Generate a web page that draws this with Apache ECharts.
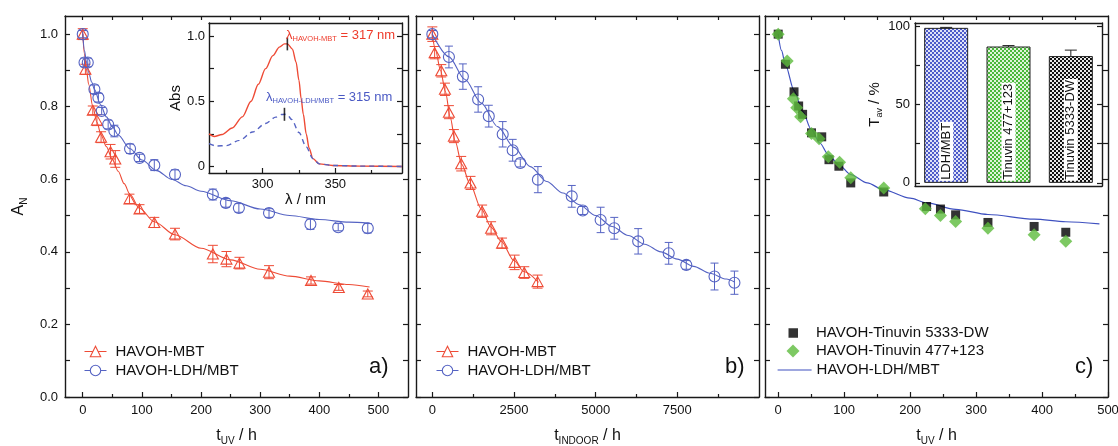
<!DOCTYPE html>
<html><head><meta charset="utf-8">
<script src="https://cdn.jsdelivr.net/npm/echarts@6/dist/echarts.min.js"></script>
<style>html,body{margin:0;padding:0;background:#fff}#c{width:1118px;height:446px}</style>
</head><body><div id="c"></div>
<script>
// ---------- DATA ----------
// Panel a (t_UV / h)
const aMbtT   = [0, 4.5, 17, 24, 31, 47, 55, 79, 96, 121, 156, 220, 243, 265, 315, 386, 433, 482];
const aMbtA   = [1.0, 0.903, 0.79, 0.763, 0.716, 0.676, 0.656, 0.546, 0.518, 0.481, 0.449, 0.394, 0.38, 0.369, 0.344, 0.321, 0.302, 0.284];
const aMbtErr = [0.015, 0.014, 0.012, 0.015, 0.015, 0.02, 0.023, 0.013, 0.012, 0.014, 0.016, 0.024, 0.021, 0.016, 0.018, 0.01, 0.008, 0.008];
const aLdhT   = [0, 3, 8.5, 19.7, 26.5, 32, 43, 53.5, 80, 96, 121, 156, 220, 242, 264, 315, 385, 432, 482];
const aLdhA   = [1.0, 0.922, 0.922, 0.848, 0.825, 0.788, 0.751, 0.733, 0.684, 0.659, 0.639, 0.613, 0.558, 0.535, 0.521, 0.507, 0.476, 0.468, 0.465];
const aLdhErr = [0.01, 0.012, 0.012, 0.012, 0.012, 0.01, 0.012, 0.016, 0.013, 0.01, 0.015, 0.013, 0.015, 0.012, 0.012, 0.012, 0.014, 0.01, 0.013];
const aMbtFitT = [0, 3, 6, 10, 17, 24, 31, 40, 50, 60, 70, 80, 96, 121, 156, 200, 250, 300, 350, 400, 450, 485];
const aMbtFitA = [1.0, 0.945, 0.905, 0.862, 0.8, 0.757, 0.722, 0.69, 0.655, 0.622, 0.588, 0.558, 0.52, 0.483, 0.447, 0.41, 0.378, 0.352, 0.333, 0.32, 0.31, 0.303];
const aLdhFitT = [0, 3, 6, 10, 15, 20, 30, 40, 50, 60, 80, 100, 125, 150, 175, 200, 250, 300, 350, 400, 450, 485];
const aLdhFitA = [1.0, 0.955, 0.925, 0.895, 0.868, 0.847, 0.806, 0.772, 0.745, 0.722, 0.684, 0.653, 0.624, 0.6, 0.582, 0.567, 0.541, 0.518, 0.5, 0.489, 0.482, 0.479];

// Panel b (t_INDOOR / h)
const bMbtT   = [0, 71, 274, 386, 508, 660, 884, 1169, 1524, 1799, 2134, 2520, 2815, 3222];
const bMbtA   = [1.0, 0.949, 0.899, 0.848, 0.785, 0.719, 0.643, 0.59, 0.512, 0.465, 0.424, 0.371, 0.343, 0.318];
const bMbtErr = [0.02, 0.017, 0.017, 0.017, 0.018, 0.018, 0.02, 0.018, 0.017, 0.018, 0.014, 0.02, 0.016, 0.018];
const bLdhT   = [0, 508, 935, 1402, 1728, 2154, 2459, 2693, 3232, 4268, 4604, 5152, 5569, 6301, 7236, 7774, 8638, 9248];
const bLdhA   = [1.0, 0.937, 0.883, 0.82, 0.774, 0.724, 0.68, 0.645, 0.599, 0.553, 0.514, 0.488, 0.465, 0.429, 0.396, 0.364, 0.332, 0.315];
const bLdhErr = [0.01, 0.03, 0.035, 0.035, 0.03, 0.035, 0.03, 0.011, 0.036, 0.03, 0.011, 0.035, 0.03, 0.035, 0.03, 0.012, 0.037, 0.032];
const bMbtFitT = [0, 100, 250, 400, 550, 700, 900, 1150, 1500, 1800, 2100, 2500, 2800, 3250];
const bMbtFitA = [1.0, 0.955, 0.9, 0.842, 0.77, 0.705, 0.641, 0.588, 0.518, 0.468, 0.43, 0.376, 0.346, 0.316];
const bLdhFitT = [0, 500, 1000, 1500, 2000, 2500, 3000, 3500, 4000, 4500, 5000, 5500, 6000, 6500, 7000, 7500, 8000, 8500, 9000, 9250];
const bLdhFitA = [1.0, 0.938, 0.875, 0.81, 0.745, 0.688, 0.635, 0.594, 0.562, 0.53, 0.5, 0.47, 0.445, 0.421, 0.4, 0.38, 0.36, 0.341, 0.325, 0.317];

// Panel c (t_UV / h)
const cDwT  = [0, 11, 24, 31, 37, 50.5, 66, 77, 92, 110, 160, 225, 246, 269, 318, 388, 436];
const cDwA  = [1.0, 0.917, 0.841, 0.802, 0.779, 0.728, 0.717, 0.654, 0.636, 0.59, 0.565, 0.525, 0.518, 0.502, 0.481, 0.47, 0.454];
const cTinT = [0, 13.6, 23, 28, 34, 50.5, 62, 76, 93, 110, 160, 223, 246, 269, 318, 388, 436];
const cTinA = [1.0, 0.926, 0.822, 0.797, 0.772, 0.726, 0.712, 0.662, 0.647, 0.604, 0.576, 0.519, 0.5, 0.484, 0.465, 0.447, 0.429];
const cFitT = [0, 5, 11, 24, 37, 50, 63, 76, 92, 110, 135, 160, 200, 225, 269, 318, 388, 436, 487];
const cFitA = [1.0, 0.955, 0.915, 0.845, 0.787, 0.738, 0.7, 0.668, 0.64, 0.613, 0.59, 0.571, 0.548, 0.535, 0.517, 0.503, 0.49, 0.483, 0.477];

// Inset a: absorbance spectra
const specMbtWl  = [263, 266.6, 272, 279, 286, 292, 297, 302, 307, 311.5, 315, 317, 320.5, 323, 325, 326.5, 328, 330, 332, 334.6, 339, 348, 367, 396];
const specMbtAbs = [0.25, 0.23, 0.245, 0.295, 0.38, 0.5, 0.63, 0.75, 0.85, 0.915, 0.94, 0.94, 0.9, 0.8, 0.66, 0.52, 0.4, 0.25, 0.14, 0.06, 0.02, 0.008, 0.003, 0.0];
const specLdhWl  = [263, 268, 275, 284, 293, 302, 309, 313, 315, 317, 320, 325, 330, 334.6, 339, 348, 367, 396];
const specLdhAbs = [0.175, 0.157, 0.16, 0.2, 0.264, 0.33, 0.378, 0.398, 0.4, 0.395, 0.36, 0.26, 0.15, 0.06, 0.02, 0.008, 0.003, 0.0];
const peakWl  = [317, 315];
const peakAbs = [0.94, 0.40];

// Inset c: T_av bars
const barCats = ['LDH/MBT', 'Tinuvin 477+123', 'Tinuvin 5333-DW'];
const barVals = [98.9, 87.0, 80.9];
const barErr  = [0.3, 0.6, 3.8];

// Tick values / labels
const yTicks  = [0, 0.1, 0.2, 0.3, 0.4, 0.5, 0.6, 0.7, 0.8, 0.9, 1.0];
const yLabels = [0, 0.2, 0.4, 0.6, 0.8, 1.0];
const aXLabels = [0, 100, 200, 300, 400, 500];
const aXMinor  = [50, 150, 250, 350, 450];
const aXTop    = [0, 50, 100, 150, 200, 250, 300, 350, 400, 450, 500];
const bXLabels = [0, 2500, 5000, 7500];
const bXMinor  = [1250, 3750, 6250, 8750];
const bXTop    = [0, 1250, 2500, 3750, 5000, 6250, 7500, 8750];
const cXLabels = [0, 100, 200, 300, 400, 500];
const cXMinor  = [50, 150, 250, 350, 450];
const cXTop    = [0, 50, 100, 150, 200, 250, 300, 350, 400, 450];
const insXLabels = [300, 350];
const insXMinor  = [275, 325, 375];
const insYLabels = [0, 0.5, 1.0];
const insYTicks  = [0, 0.25, 0.5, 0.75, 1.0];
const barYLabels = [0, 50, 100];
const barYTicks  = [0, 25, 50, 75, 100];

// ---------- STYLE ----------
const FONT = "'Liberation Sans', Arial, Helvetica, sans-serif";
const RED = '#ee4b36', BLUE = '#5563c3', GREEN = '#5cbc3c', DARK = '#1a1a1a', FITBLUE = '#3f51c0';
const TXT = '#111';

function checker(c1, c2) {
  const cv = document.createElement('canvas'); cv.width = cv.height = 4;
  const g = cv.getContext('2d');
  g.fillStyle = c2; g.fillRect(0, 0, 4, 4);
  g.fillStyle = c1; g.fillRect(0, 0, 2, 2); g.fillRect(2, 2, 2, 2);
  return { image: cv, repeat: 'repeat' };
}
const barFills = [checker('#4d5bc9', '#dfe2f7'), checker('#49b83a', '#dff3da'), checker('#111111', '#e8e8e8')];

const xAxes = [], yAxes = [];
function add(list, cfg) { list.push(cfg); return list.length - 1; }
const plain = v => String(v);
function valAxis(grid, min, max, pos, o) {
  o = o || {};
  return {
    type: 'value', gridIndex: grid, min: min, max: max, position: pos, silent: true,
    axisLine: { show: o.line !== false, onZero: false, lineStyle: { color: DARK, width: 1.4 } },
    axisTick: { show: !!o.ticks, inside: true, length: o.len || 5, customValues: o.ticks, lineStyle: { color: DARK, width: 1.2 } },
    axisLabel: { show: !!o.labels, customValues: o.labels, formatter: o.fmt || plain, fontSize: o.fs || 13, fontFamily: FONT, color: TXT, margin: o.margin || 7 },
    splitLine: { show: false }, minorTick: { show: false }
  };
}
function named(ax, name, gap, fs) {
  ax.name = name; ax.nameLocation = 'middle'; ax.nameGap = gap;
  ax.nameTextStyle = { color: TXT, fontFamily: FONT, fontSize: fs,
    rich: { i: { fontSize: fs, lineHeight: 20, fontFamily: FONT, color: TXT },
            s: { fontSize: Math.round(fs * 0.62), lineHeight: 10, verticalAlign: 'bottom', fontFamily: FONT, color: TXT } } };
  return ax;
}
const f1 = v => v.toFixed(1);

// panel a
const aX = add(xAxes, named(valAxis(0, -30, 550, 'bottom', { ticks: aXLabels, labels: aXLabels, len: 5 }), '{i|t}{s|UV}{i| / h}', 29, 16));
add(xAxes, valAxis(0, -30, 550, 'bottom', { ticks: aXMinor, len: 3, line: false }));
add(xAxes, valAxis(0, -30, 550, 'top', { ticks: aXTop, len: 4 }));
const aY = add(yAxes, named(valAxis(0, 0, 1.05, 'left', { ticks: yTicks, labels: yLabels, fmt: f1, len: 5 }), '{i|A}{s|N}', 36, 16));
add(yAxes, valAxis(0, 0, 1.05, 'right', { ticks: yTicks, len: 5 }));
// panel b
const bX = add(xAxes, named(valAxis(1, -500, 10000, 'bottom', { ticks: bXLabels, labels: bXLabels, len: 5 }), '{i|t}{s|INDOOR}{i| / h}', 29, 16));
add(xAxes, valAxis(1, -500, 10000, 'bottom', { ticks: bXMinor, len: 3, line: false }));
add(xAxes, valAxis(1, -500, 10000, 'top', { ticks: bXTop, len: 4 }));
const bY = add(yAxes, valAxis(1, 0, 1.05, 'left', { ticks: yTicks, len: 5 }));
add(yAxes, valAxis(1, 0, 1.05, 'right', { ticks: yTicks, len: 5 }));
// panel c
const cX = add(xAxes, named(valAxis(2, -20, 500, 'bottom', { ticks: cXLabels, labels: cXLabels, len: 5 }), '{i|t}{s|UV}{i| / h}', 29, 16));
add(xAxes, valAxis(2, -20, 500, 'bottom', { ticks: cXMinor, len: 3, line: false }));
add(xAxes, valAxis(2, -20, 500, 'top', { ticks: cXTop, len: 4 }));
const cY = add(yAxes, valAxis(2, 0, 1.05, 'left', { ticks: yTicks, len: 5 }));
add(yAxes, valAxis(2, 0, 1.05, 'right', { ticks: yTicks, len: 5 }));
// inset a
const iaX = add(xAxes, named(valAxis(3, 263, 396, 'bottom', { ticks: insXLabels, labels: insXLabels, len: 5, margin: 5 }), 'λ / nm', 18, 15));
add(xAxes, valAxis(3, 263, 396, 'bottom', { ticks: insXMinor, len: 3, line: false }));
add(xAxes, valAxis(3, 263, 396, 'top', {}));
const iaY = add(yAxes, named(valAxis(3, -0.05, 1.1, 'left', { ticks: insYTicks, labels: insYLabels, fmt: v => v === 0 ? '0' : v.toFixed(1), len: 5, margin: 4 }), 'Abs', 24, 15));
add(yAxes, valAxis(3, -0.05, 1.1, 'right', { ticks: insYTicks, len: 5 }));
// inset c
const icX = add(xAxes, { type: 'category', gridIndex: 4, data: barCats, position: 'bottom', silent: true,
  axisLine: { show: true, onZero: false, lineStyle: { color: DARK, width: 1.4 } }, axisTick: { show: false }, axisLabel: { show: false } });
add(xAxes, { type: 'category', gridIndex: 4, data: barCats, position: 'top', silent: true,
  axisLine: { show: true, onZero: false, lineStyle: { color: DARK, width: 1.4 } }, axisTick: { show: false }, axisLabel: { show: false } });
const icY = add(yAxes, named(valAxis(4, -2, 102, 'left', { ticks: barYTicks, labels: barYLabels, len: 5, margin: 5 }), '{i|T}{s|av}{i| / %}', 30, 15));
add(yAxes, valAxis(4, -2, 102, 'right', { ticks: barYTicks, len: 5 }));

// ---------- SERIES ----------
const series = [];
const zip = (xs, ys) => xs.map((x, i) => [x, ys[i]]);
function fit(name, xi, yi, xs, ys, color, w, dash) {
  series.push({ type: 'line', name: name, xAxisIndex: xi, yAxisIndex: yi, data: zip(xs, ys), symbol: 'none',
    smooth: 0.3, smoothMonotone: 'x', lineStyle: { color: color, width: w || 1.1, type: dash || 'solid' },
    itemStyle: { color: color }, silent: true, z: 3, animation: false });
}
function err(xi, yi, xs, ys, es, color, cap) {
  series.push({ type: 'custom', name: 'err', xAxisIndex: xi, yAxisIndex: yi, silent: true, z: 3,
    data: xs.map((x, i) => [x, ys[i], es[i]]), encode: { x: 0, y: 1 },
    renderItem: function (p, api) {
      const x = api.value(0), y = api.value(1), e = api.value(2);
      const a = api.coord([x, y - e]), b = api.coord([x, y + e]);
      const st = { stroke: color, lineWidth: 1 };
      return { type: 'group', children: [
        { type: 'line', shape: { x1: a[0], y1: a[1], x2: b[0], y2: b[1] }, style: st },
        { type: 'line', shape: { x1: a[0] - cap, y1: a[1], x2: a[0] + cap, y2: a[1] }, style: st },
        { type: 'line', shape: { x1: b[0] - cap, y1: b[1], x2: b[0] + cap, y2: b[1] }, style: st }
      ] };
    } });
}
function hollow(name, xi, yi, xs, ys, symbol, size, color) {
  series.push({ type: 'line', name: name, xAxisIndex: xi, yAxisIndex: yi, data: zip(xs, ys), symbol: symbol, symbolSize: size,
    showSymbol: true, showAllSymbol: true, lineStyle: { width: 0, color: color },
    itemStyle: { color: 'rgba(255,255,255,0)', borderColor: color, borderWidth: 1.1 }, z: 4, silent: true, animation: false });
}
function filled(name, xi, yi, xs, ys, symbol, size, color) {
  series.push({ type: 'scatter', name: name, xAxisIndex: xi, yAxisIndex: yi, data: zip(xs, ys), symbol: symbol, symbolSize: size,
    itemStyle: { color: color }, z: 4, silent: true, animation: false });
}

// panel a
fit('fitA1', aX, aY, aMbtFitT, aMbtFitA, RED);
fit('fitA2', aX, aY, aLdhFitT, aLdhFitA, BLUE);
err(aX, aY, aMbtT, aMbtA, aMbtErr, RED, 5);
err(aX, aY, aLdhT, aLdhA, aLdhErr, BLUE, 4);
hollow('HAVOH-MBT', aX, aY, aMbtT, aMbtA, 'triangle', [11, 10], RED);
hollow('HAVOH-LDH/MBT', aX, aY, aLdhT, aLdhA, 'circle', 11, BLUE);
// panel b
fit('fitB1', bX, bY, bMbtFitT, bMbtFitA, RED);
fit('fitB2', bX, bY, bLdhFitT, bLdhFitA, BLUE);
err(bX, bY, bMbtT, bMbtA, bMbtErr, RED, 5);
err(bX, bY, bLdhT, bLdhA, bLdhErr, BLUE, 4);
hollow('HAVOH-MBT', bX, bY, bMbtT, bMbtA, 'triangle', [11, 10], RED);
hollow('HAVOH-LDH/MBT', bX, bY, bLdhT, bLdhA, 'circle', 11, BLUE);
// panel c
fit('HAVOH-LDH/MBT\u00a0', cX, cY, cFitT, cFitA, FITBLUE, 1.2);
filled('HAVOH-Tinuvin 5333-DW', cX, cY, cDwT, cDwA, 'rect', 9, '#000');
filled('HAVOH-Tinuvin 477+123', cX, cY, cTinT, cTinA, 'diamond', 13, GREEN);
// inset a
fit('specMbt', iaX, iaY, specMbtWl, specMbtAbs, RED, 1.4);
fit('specLdh', iaX, iaY, specLdhWl, specLdhAbs, BLUE, 1.4, [5, 4]);
series.push({ type: 'scatter', name: 'peaks', xAxisIndex: iaX, yAxisIndex: iaY, data: zip(peakWl, peakAbs),
  symbol: 'rect', symbolSize: [1.6, 13], itemStyle: { color: '#000' }, z: 5, silent: true });
// inset c
series.push({ type: 'bar', name: 'Tav', xAxisIndex: icX, yAxisIndex: icY, barWidth: 44, silent: true, z: 3,
  data: barVals.map((v, i) => ({ value: v, itemStyle: { color: barFills[i] } })),
  itemStyle: { borderColor: '#222', borderWidth: 1 },
  label: { show: true, position: 'insideBottom', rotate: 90, align: 'left', verticalAlign: 'middle', distance: 2,
    formatter: p => barCats[p.dataIndex], fontSize: 13, fontFamily: FONT, color: TXT, backgroundColor: '#fff', padding: [1, 1, 0, 1] } });
err(icX, icY, [0, 1, 2], barVals, barErr, '#222', 6);

// ---------- LEGENDS ----------
function leg(o, textPad) {
  return Object.assign({ orient: 'vertical', selectedMode: false, itemGap: 4, padding: 0, symbolKeepAspect: true,
    textStyle: { fontSize: 15, fontFamily: FONT, color: TXT, padding: [0, 0, 0, textPad] } }, o);
}
const legends = [
  leg({ left: 84, top: 344, itemWidth: 22, itemHeight: 13, data: ['HAVOH-MBT', 'HAVOH-LDH/MBT'],
    itemStyle: { color: '#fff', borderWidth: 1.1 }, lineStyle: { width: 1 } }, 4),
  leg({ left: 436, top: 344, itemWidth: 22, itemHeight: 13, data: ['HAVOH-MBT', 'HAVOH-LDH/MBT'],
    itemStyle: { color: '#fff', borderWidth: 1.1 }, lineStyle: { width: 1 } }, 4),
  leg({ left: 788.5, top: 325.5, itemWidth: 9.5, itemHeight: 9.5, data: ['HAVOH-Tinuvin 5333-DW'] }, 13),
  leg({ left: 786.5, top: 343.5, itemWidth: 13, itemHeight: 13, data: ['HAVOH-Tinuvin 477+123'] }, 11.5),
  leg({ left: 777, top: 362.5, itemWidth: 34, itemHeight: 11,
    data: [{ name: 'HAVOH-LDH/MBT\u00a0', itemStyle: { color: 'rgba(0,0,0,0)', borderWidth: 0, opacity: 0 } }],
    lineStyle: { width: 1.2 } }, 0)
];

// ---------- TEXT ANNOTATIONS ----------
function sub(color, big, small) {
  return { l: { fontSize: big, lineHeight: 16, fill: color, fontFamily: FONT },
           s: { fontSize: small, lineHeight: 8, verticalAlign: 'bottom', fill: color, fontFamily: FONT } };
}
const graphic = [
  { type: 'text', x: 286, y: 27, z: 10, style: { text: '{l|λ}{s|HAVOH-MBT}{l| = 317 nm}', rich: sub('#ee3b2b', 13, 7.5), fill: '#ee3b2b' } },
  { type: 'text', x: 266, y: 89, z: 10, style: { text: '{l|λ}{s|HAVOH-LDH/MBT}{l| = 315 nm}', rich: sub('#4a59c4', 13, 7.5), fill: '#4a59c4' } },
  { type: 'text', x: 369, y: 356, style: { text: 'a)', fontSize: 22, fontFamily: FONT, fill: TXT } },
  { type: 'text', x: 725, y: 356, style: { text: 'b)', fontSize: 22, fontFamily: FONT, fill: TXT } },
  { type: 'text', x: 1075, y: 356, style: { text: 'c)', fontSize: 22, fontFamily: FONT, fill: TXT } }
];

const grids = [
  { left: 65, top: 16, width: 343, height: 381 },
  { left: 416, top: 16, width: 343, height: 381 },
  { left: 765, top: 16, width: 343, height: 381 },
  { left: 209, top: 23, width: 193, height: 150 },
  { left: 915, top: 23, width: 187, height: 163 }
].map(g => Object.assign({ containLabel: false, outerBoundsMode: 'none' }, g));

const chart = echarts.init(document.getElementById('c'), null, { renderer: 'canvas' });
chart.setOption({
  animation: false, backgroundColor: '#fff',
  textStyle: { fontFamily: FONT },
  grid: grids, xAxis: xAxes, yAxis: yAxes, series: series, legend: legends, graphic: graphic
});
</script></body></html>
